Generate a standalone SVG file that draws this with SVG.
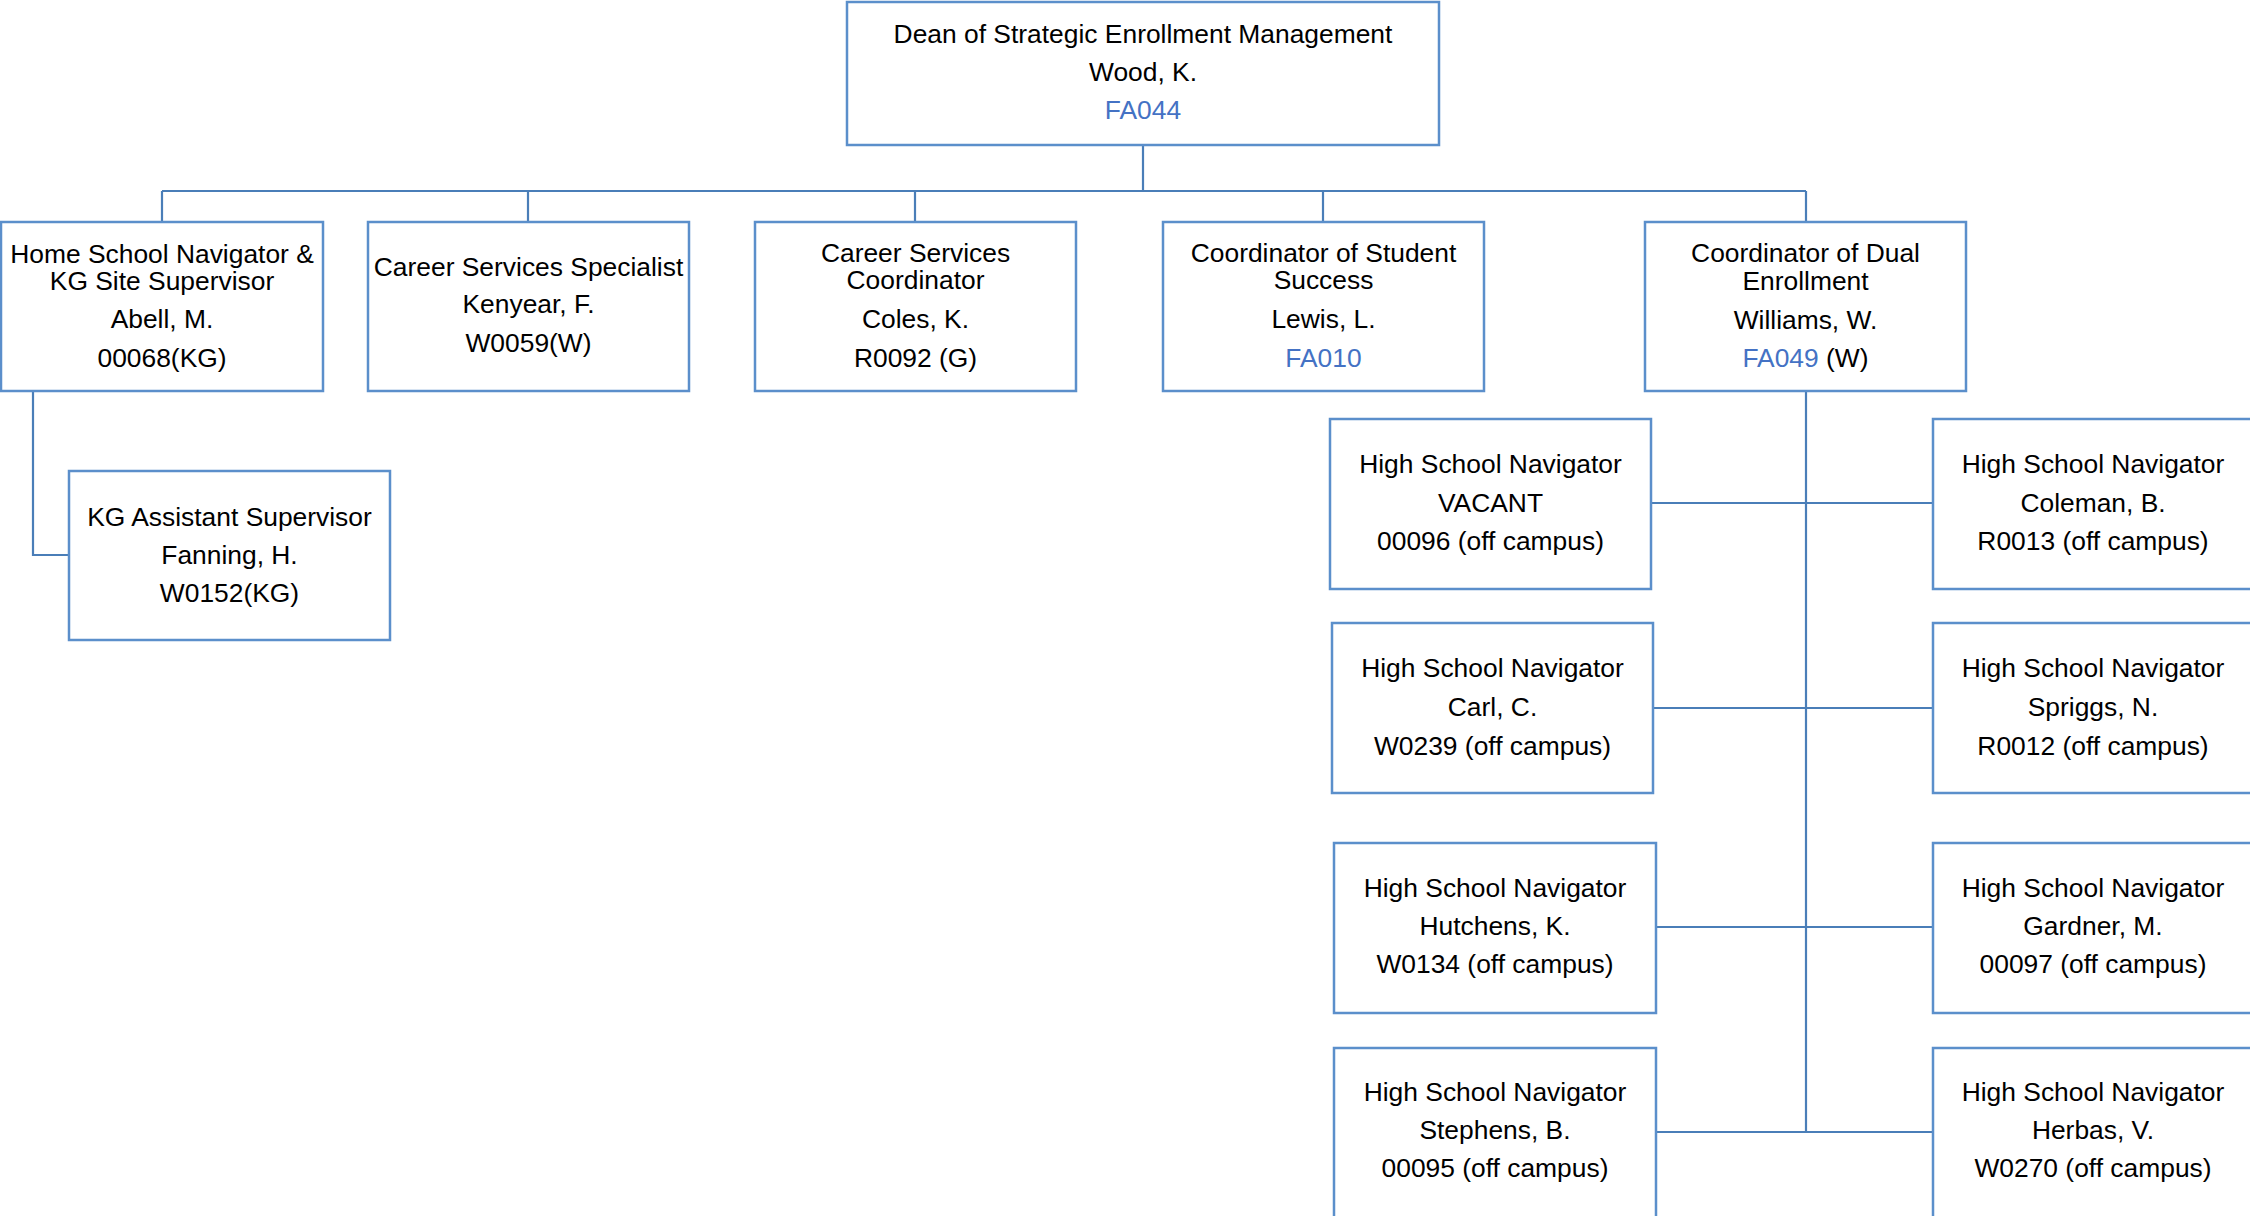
<svg xmlns="http://www.w3.org/2000/svg" width="2250" height="1216" viewBox="0 0 2250 1216">
<style>
.box{fill:#ffffff;stroke:#5B8FCB;stroke-width:2.5}
.conn{fill:none;stroke:#4A7EB8;stroke-width:2.2}
text{font-family:"Liberation Sans",Arial,sans-serif;font-size:26.4px;fill:#000000;text-anchor:middle}
.code{fill:#4472C4}
</style>
<rect width="2250" height="1216" fill="#ffffff"/>
<g id="connectors">
<path class="conn" d="M1143 145 V191 M162 191 H1806 M162 191 V222 M528 191 V222 M915 191 V222 M1323 191 V222 M1806 191 V222"/>
<path class="conn" d="M33 391 V555 H69"/>
<path class="conn" d="M1806 391 V1132 M1651 503 H1933 M1653 708 H1933 M1656 927 H1933 M1656 1132 H1933"/>
</g>
<g id="dean">
<rect class="box" x="847" y="2" width="592" height="143"/>
<text x="1143" y="43">Dean of Strategic Enrollment Management</text>
<text x="1143" y="81">Wood, K.</text>
<text x="1143" y="119" class="code">FA044</text>
</g>
<g id="home-school">
<rect class="box" x="1" y="222" width="322" height="169"/>
<text x="162" y="263">Home School Navigator &amp;</text>
<text x="162" y="290">KG Site Supervisor</text>
<text x="162" y="328">Abell, M.</text>
<text x="162" y="367">00068(KG)</text>
</g>
<g id="career-specialist">
<rect class="box" x="368" y="222" width="321" height="169"/>
<text x="528.5" y="276">Career Services Specialist</text>
<text x="528.5" y="313">Kenyear, F.</text>
<text x="528.5" y="352">W0059(W)</text>
</g>
<g id="career-coordinator">
<rect class="box" x="755" y="222" width="321" height="169"/>
<text x="915.5" y="262">Career Services</text>
<text x="915.5" y="289">Coordinator</text>
<text x="915.5" y="328">Coles, K.</text>
<text x="915.5" y="367">R0092 (G)</text>
</g>
<g id="student-success">
<rect class="box" x="1163" y="222" width="321" height="169"/>
<text x="1323.5" y="262">Coordinator of Student</text>
<text x="1323.5" y="289">Success</text>
<text x="1323.5" y="328">Lewis, L.</text>
<text x="1323.5" y="367" class="code">FA010</text>
</g>
<g id="dual-enrollment">
<rect class="box" x="1645" y="222" width="321" height="169"/>
<text x="1805.5" y="262">Coordinator of Dual</text>
<text x="1805.5" y="290">Enrollment</text>
<text x="1805.5" y="329">Williams, W.</text>
<text x="1805.5" y="367"><tspan class="code">FA049</tspan> (W)</text>
</g>
<g id="kg-assistant">
<rect class="box" x="69" y="471" width="321" height="169"/>
<text x="229.5" y="526">KG Assistant Supervisor</text>
<text x="229.5" y="564">Fanning, H.</text>
<text x="229.5" y="602">W0152(KG)</text>
</g>
<g id="hsn-vacant">
<rect class="box" x="1330" y="419" width="321" height="170"/>
<text x="1490.5" y="473">High School Navigator</text>
<text x="1490.5" y="512">VACANT</text>
<text x="1490.5" y="550">00096 (off campus)</text>
</g>
<g id="hsn-coleman">
<rect class="box" x="1933" y="419" width="321" height="170"/>
<text x="2093" y="473">High School Navigator</text>
<text x="2093" y="512">Coleman, B.</text>
<text x="2093" y="550">R0013 (off campus)</text>
</g>
<g id="hsn-carl">
<rect class="box" x="1332" y="623" width="321" height="170"/>
<text x="1492.5" y="677">High School Navigator</text>
<text x="1492.5" y="716">Carl, C.</text>
<text x="1492.5" y="755">W0239 (off campus)</text>
</g>
<g id="hsn-spriggs">
<rect class="box" x="1933" y="623" width="321" height="170"/>
<text x="2093" y="677">High School Navigator</text>
<text x="2093" y="716">Spriggs, N.</text>
<text x="2093" y="755">R0012 (off campus)</text>
</g>
<g id="hsn-hutchens">
<rect class="box" x="1334" y="843" width="322" height="170"/>
<text x="1495" y="897">High School Navigator</text>
<text x="1495" y="935">Hutchens, K.</text>
<text x="1495" y="973">W0134 (off campus)</text>
</g>
<g id="hsn-gardner">
<rect class="box" x="1933" y="843" width="321" height="170"/>
<text x="2093" y="897">High School Navigator</text>
<text x="2093" y="935">Gardner, M.</text>
<text x="2093" y="973">00097 (off campus)</text>
</g>
<g id="hsn-stephens">
<rect class="box" x="1334" y="1048" width="322" height="172"/>
<text x="1495" y="1101">High School Navigator</text>
<text x="1495" y="1139">Stephens, B.</text>
<text x="1495" y="1177">00095 (off campus)</text>
</g>
<g id="hsn-herbas">
<rect class="box" x="1933" y="1048" width="321" height="172"/>
<text x="2093" y="1101">High School Navigator</text>
<text x="2093" y="1139">Herbas, V.</text>
<text x="2093" y="1177">W0270 (off campus)</text>
</g>
</svg>
